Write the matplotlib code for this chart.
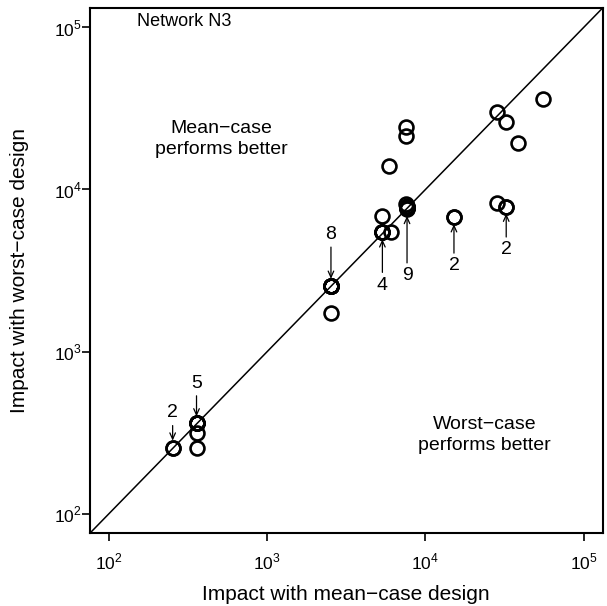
import matplotlib
matplotlib.use("Agg")
import matplotlib.pyplot as plt

plt.rcParams['font.family'] = ['Liberation Sans', 'DejaVu Sans']
plt.rcParams['mathtext.fontset'] = 'custom'
plt.rcParams['mathtext.rm'] = 'Liberation Sans'

# Impact per scenario (mean-case design vs worst-case design)
mean_case = [253, 253,
             358, 358, 358, 358, 358, 358, 358,
             2530, 2530, 2530, 2530, 2530, 2530, 2530, 2530, 2530,
             5346, 5346, 5346, 5346, 6040, 5346, 5902,
             7515, 7515,
             7515, 7600, 7650, 7700, 7600, 7650, 7700, 7600, 7650,
             15140, 15140,
             28380, 32370, 32370,
             28120, 32370, 38280, 55330]
worst_case = [256, 256,
              361, 361, 361, 361, 361, 317, 256,
              2547, 2547, 2547, 2547, 2547, 2547, 2547, 2547, 1741,
              5447, 5447, 5447, 5447, 5447, 6838, 13930,
              24260, 21380,
              8150, 7590, 7800, 7700, 7900, 7750, 7650, 7850, 7700,
              6750, 6750,
              8260, 7840, 7840,
              30070, 26060, 19410, 35970]

# Multiplicity labels: (x, y, label, vertical offset in points)
count_x = [253, 358, 2530, 5346, 7650, 15140, 32370]
count_y = [256, 361, 2547, 5447, 7590, 6750, 7840]
count_text = ["2", "5", "8", "4", "9", "2", "2"]
count_dy = [25, 29, 37, -38, -48, -35, -31]

lo, hi = 10 ** 1.88, 10 ** 5.12

fig = plt.figure(figsize=(6.07, 6.06), dpi=100)
ax = fig.add_axes([0.148, 0.120, 0.845, 0.867])
ax.set_xscale('log')
ax.set_yscale('log')
ax.set_xlim(lo, hi)
ax.set_ylim(lo, hi)

ax.plot([lo, hi], [lo, hi], color='black', lw=1.1, zorder=1)
ax.plot(mean_case, worst_case, linestyle='none', marker='o', markersize=10,
        markerfacecolor='none', markeredgecolor='black', markeredgewidth=1.9,
        zorder=2)

for x, y, t, dy in zip(count_x, count_y, count_text, count_dy):
    ax.annotate(t, xy=(x, y), xytext=(0, dy), textcoords='offset points',
                ha='center', va='center', fontsize=14,
                arrowprops=dict(arrowstyle='->,head_length=0.45,head_width=0.2',
                                color='black', lw=0.9, mutation_scale=10,
                                shrinkA=1, shrinkB=5))

ax.text(0.092, 0.974, "Network N3", transform=ax.transAxes, fontsize=13,
        ha='left', va='center')
ax.text(0.257, 0.750, "Mean\u2212case\nperforms better", transform=ax.transAxes,
        fontsize=14, ha='center', va='center', linespacing=1.28)
ax.text(0.770, 0.187, "Worst\u2212case\nperforms better", transform=ax.transAxes,
        fontsize=14, ha='center', va='center', linespacing=1.28)

ticks = [1e2, 1e3, 1e4, 1e5]
tick_labels = [r"$10^{2}$", r"$10^{3}$", r"$10^{4}$", r"$10^{5}$"]
ax.set_xticks(ticks)
ax.set_xticklabels(tick_labels)
ax.set_yticks(ticks)
ax.set_yticklabels(tick_labels)
ax.minorticks_off()
ax.tick_params(axis='x', which='major', direction='out', length=5.5,
               width=1.2, labelsize=12.5, pad=8)
ax.tick_params(axis='y', which='major', direction='out', length=5.5,
               width=1.2, labelsize=12.5, pad=0.5)

for s in ax.spines.values():
    s.set_linewidth(1.5)

ax.set_xlabel("Impact with mean\u2212case design", fontsize=15, labelpad=9)
ax.set_ylabel("Impact with worst\u2212case design", fontsize=15, labelpad=18)

fig.savefig("out.png", dpi=100)
